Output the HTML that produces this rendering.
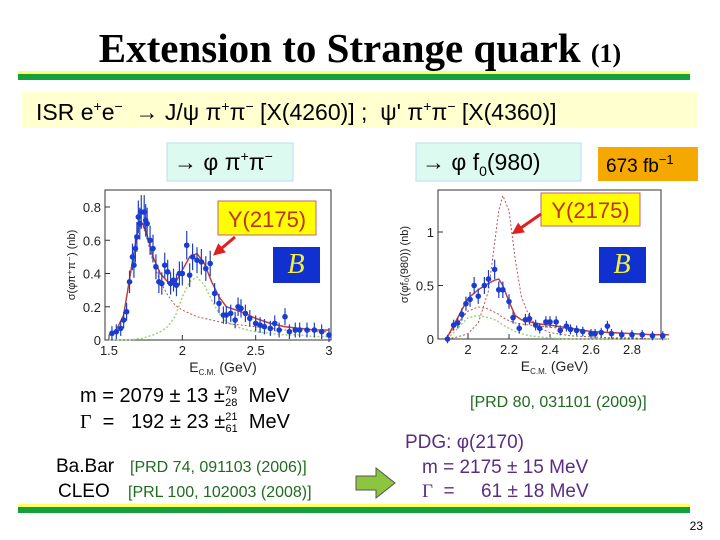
<!DOCTYPE html>
<html><head><meta charset="utf-8"><style>
html,body{margin:0;padding:0;background:#fff}
svg{display:block}
text{font-family:"Liberation Sans",sans-serif;white-space:pre}
.serif{font-family:"Liberation Serif",serif}
</style></head><body>
<svg id="slide" width="720" height="540" viewBox="0 0 720 540" xmlns="http://www.w3.org/2000/svg">
<text x="360" y="62" text-anchor="middle" class="serif" font-weight="bold" font-size="41">Extension to Strange quark <tspan font-size="26">(1)</tspan></text>
<rect x="18" y="71" width="672" height="3" fill="#ffff66"/>
<rect x="18" y="74" width="672" height="6" fill="#14a03c"/>
<rect x="22" y="92" width="676" height="36" fill="#ffffd0"/>
<text x="36" y="120" font-size="23">ISR e<tspan font-size="14" dy="-9">+</tspan><tspan dy="9">e</tspan><tspan font-size="14" dy="-9">−</tspan><tspan dy="9">  → J/ψ π</tspan><tspan font-size="14" dy="-9">+</tspan><tspan dy="9">π</tspan><tspan font-size="14" dy="-9">−</tspan><tspan dy="9"> [X(4260)] ;  ψ' π</tspan><tspan font-size="14" dy="-9">+</tspan><tspan dy="9">π</tspan><tspan font-size="14" dy="-9">−</tspan><tspan dy="9"> [X(4360)]</tspan></text>
<rect x="167" y="143" width="126" height="38" fill="#dcfaf0" stroke="#bde"/>
<text x="174" y="170" font-size="23">→ φ π<tspan font-size="14" dy="-9">+</tspan><tspan dy="9">π</tspan><tspan font-size="14" dy="-9">−</tspan></text>
<rect x="416" y="143" width="165" height="38" fill="#dcfaf0" stroke="#bde"/>
<text x="422" y="170" font-size="23">→ φ f<tspan font-size="14" dy="6">0</tspan><tspan dy="-6">(980)</tspan></text>
<rect x="598" y="147" width="100" height="34" fill="#f5a800"/>
<text x="606" y="172" font-size="19">673 fb<tspan font-size="13" dy="-8">−1</tspan></text>
<g id="left"></g>
<g id="right"></g>
<text x="80" y="402" font-size="20">m = 2079 ± 13 ±<tspan font-size="11" dy="-8">79</tspan><tspan font-size="11" dx="-12" dy="12">28</tspan><tspan dy="-4">  MeV</tspan></text>
<text x="80" y="428" font-size="20"><tspan class="serif">Γ</tspan>  =   192 ± 23 ±<tspan font-size="11" dy="-8">21</tspan><tspan font-size="11" dx="-12" dy="12">61</tspan><tspan dy="-4">  MeV</tspan></text>
<text x="56" y="472" font-size="19">Ba.Bar</text>
<text x="130" y="472" font-size="16" fill="#1f6b1f">[PRD 74, 091103 (2006)]</text>
<text x="58" y="497" font-size="19">CLEO</text>
<text x="128" y="497" font-size="16" fill="#1f6b1f">[PRL 100, 102003 (2008)]</text>
<path d="M356,476 H376 V468 L395,483 L376,498 V490 H356 Z" fill="#8cc63f" stroke="#555"/>
<text x="470" y="407" font-size="16" fill="#1f6b1f">[PRD 80, 031101 (2009)]</text>
<text x="405" y="448" font-size="19" fill="#5a2d82">PDG: φ(2170)</text>
<text x="422" y="473" font-size="19" fill="#5a2d82">m = 2175 ± 15 MeV</text>
<text x="422" y="497" font-size="19" fill="#5a2d82"><tspan class="serif">Γ</tspan>  =     61 ± 18 MeV</text>
<rect x="18" y="504" width="672" height="3" fill="#ffff66"/>
<rect x="18" y="507" width="672" height="6" fill="#14a03c"/>
<text x="703" y="530" font-size="12" text-anchor="end">23</text>
</svg>
<script>
// Left chart data: sigma(phi pi+ pi-) vs E_CM
const leftE=[1.52,1.55,1.58,1.6,1.62,1.64,1.66,1.67,1.68,1.69,1.7,1.71,1.72,1.74,1.75,1.76,1.78,1.8,1.82,1.84,1.86,1.88,1.9,1.92,1.94,1.96,1.98,2.0,2.03,2.05,2.07,2.1,2.13,2.16,2.19,2.22,2.25,2.28,2.3,2.33,2.36,2.38,2.4,2.43,2.46,2.5,2.53,2.56,2.6,2.63,2.66,2.7,2.73,2.77,2.8,2.85,2.9,2.95,3.0];
const leftSigma=[0.04,0.05,0.07,0.12,0.17,0.35,0.5,0.45,0.55,0.62,0.74,0.7,0.77,0.77,0.72,0.7,0.6,0.55,0.44,0.35,0.34,0.45,0.41,0.34,0.36,0.33,0.4,0.4,0.57,0.39,0.5,0.48,0.47,0.43,0.46,0.28,0.22,0.15,0.15,0.16,0.12,0.2,0.19,0.16,0.13,0.1,0.09,0.08,0.07,0.1,0.06,0.14,0.05,0.06,0.06,0.06,0.06,0.05,0.03];
const leftCurveE=[1.5,1.55,1.6,1.65,1.7,1.73,1.76,1.8,1.85,1.9,1.95,2.0,2.05,2.1,2.15,2.2,2.25,2.3,2.4,2.5,2.6,2.7,2.8,2.9,3.0];
const leftTotal=[0.03,0.06,0.15,0.42,0.68,0.7,0.63,0.5,0.4,0.35,0.34,0.42,0.5,0.52,0.46,0.35,0.26,0.2,0.17,0.13,0.1,0.08,0.07,0.06,0.06];
const leftRes=[0.0,0.0,0.0,0.0,0.01,0.01,0.02,0.03,0.05,0.08,0.14,0.26,0.35,0.38,0.33,0.24,0.16,0.11,0.07,0.05,0.04,0.03,0.03,0.02,0.02];
const leftBg=[0.03,0.06,0.15,0.42,0.68,0.69,0.61,0.47,0.35,0.27,0.21,0.18,0.16,0.14,0.13,0.12,0.11,0.1,0.09,0.08,0.07,0.06,0.06,0.05,0.05];
const leftXTicks=[1.5,2,2.5,3];
const leftYTicks=[0,0.2,0.4,0.6,0.8];
// Right chart data: sigma(phi f0(980)) vs E_CM
const rightE=[1.9,1.93,1.95,1.97,1.99,2.01,2.03,2.05,2.08,2.1,2.13,2.15,2.17,2.2,2.22,2.25,2.28,2.3,2.33,2.35,2.38,2.4,2.43,2.45,2.48,2.5,2.53,2.56,2.6,2.62,2.65,2.68,2.7,2.75,2.8,2.85,2.9,2.95];
const rightSigma=[0.0,0.13,0.15,0.23,0.33,0.37,0.5,0.4,0.5,0.56,0.65,0.46,0.46,0.35,0.2,0.1,0.18,0.19,0.13,0.1,0.16,0.16,0.16,0.08,0.12,0.09,0.08,0.07,0.05,0.05,0.06,0.12,0.05,0.04,0.04,0.04,0.03,0.03];
const rightCurveE=[1.9,1.95,2.0,2.05,2.1,2.13,2.15,2.17,2.2,2.23,2.26,2.3,2.35,2.4,2.5,2.6,2.7,2.8,2.9,2.98];
const rightTotal=[0.02,0.2,0.38,0.46,0.52,0.55,0.56,0.5,0.35,0.22,0.18,0.16,0.14,0.13,0.1,0.07,0.06,0.05,0.04,0.04];
const rightPeak=[0.0,0.02,0.05,0.15,0.45,0.9,1.2,1.34,1.2,0.75,0.4,0.2,0.1,0.06,0.03,0.02,0.01,0.01,0.0,0.0];
const rightBg=[0.02,0.15,0.26,0.3,0.28,0.25,0.23,0.2,0.17,0.15,0.14,0.13,0.12,0.11,0.09,0.07,0.06,0.05,0.04,0.04];
const rightGreen=[0.0,0.1,0.2,0.22,0.2,0.18,0.16,0.13,0.1,0.07,0.05,0.03,0.02,0.01,0.0,0.0,0.0,0.0,0.0,0.0];
const rightXTicks=[2,2.2,2.4,2.6,2.8];
const rightYTicks=[0,0.5,1];

const NS='http://www.w3.org/2000/svg';
function mk(parent,tag,attrs){const e=document.createElementNS(NS,tag);for(const k in attrs)e.setAttribute(k,attrs[k]);parent.appendChild(e);return e;}

function chart(g,cfg){
  const sx=v=>cfg.x0+(v-cfg.xmin)/(cfg.xmax-cfg.xmin)*(cfg.x1-cfg.x0);
  const sy=v=>cfg.y0-(v-cfg.ymin)/(cfg.ymax-cfg.ymin)*(cfg.y0-cfg.y1);
  const f=mk(g,'rect',{x:cfg.fl,y:cfg.ft,width:cfg.fr-cfg.fl,height:cfg.fb-cfg.ft,fill:'none',stroke:'#333','stroke-width':1});
  
  
  cfg.xt.forEach(t=>{
    const l=mk(g,'line',{x1:sx(t),x2:sx(t),y1:cfg.fb,y2:cfg.fb-5,stroke:'#333'});
    
    
    const tx=mk(g,'text',{x:sx(t),y:cfg.fb+15,'text-anchor':'middle','font-size':13,fill:'#222'});
    tx.textContent=t;
    
    
  });
  cfg.yt.forEach(t=>{
    const l=mk(g,'line',{x1:cfg.fl,x2:cfg.fl+5,y1:sy(t),y2:sy(t),stroke:'#333'});
    
    
    const tx=mk(g,'text',{x:cfg.fl-4,y:sy(t)+5,'text-anchor':'end','font-size':13,fill:'#222'});
    tx.textContent=t;
    
    
  });
  const yl=mk(g,'text',{transform:`translate(${cfg.fl-30},${(cfg.ft+cfg.fb)/2}) rotate(-90)`,'text-anchor':'middle','font-size':11,fill:'#222'});
  yl.textContent=cfg.ylab;
  
  
  const xl=mk(g,'text',{x:(cfg.fl+cfg.fr)/2+5,y:cfg.fb+32,'text-anchor':'middle','font-size':14,fill:'#222'});
  xl.innerHTML='E<tspan font-size="8" dy="3">C.M.</tspan><tspan dy="-3"> (GeV)</tspan>';
  
  
  cfg.curves.forEach(c=>{
    const p=mk(g,'polyline',{points:cfg.ce.map((e,i)=>sx(e)+','+sy(c.v[i])).join(' '),fill:'none',stroke:c.col,'stroke-width':c.w,'stroke-dasharray':c.dash||'none'});
    
    
  });
  cfg.E.forEach((e,i)=>{
    const v=cfg.S[i],err=0.04+v*0.08;
    const eb=mk(g,'line',{x1:sx(e),x2:sx(e),y1:sy(v-err),y2:sy(v+err),stroke:'#2040c0','stroke-width':1.2});
    
    
    const c=mk(g,'circle',{cx:sx(e),cy:sy(v),r:2.8,fill:'#1a3cd0'});
    
    
  });
}
chart(document.getElementById('left'),{x0:109,x1:329,xmin:1.5,xmax:3,y0:340,y1:207,ymin:0,ymax:0.8,fl:105,fr:331,ft:190,fb:340,
  xt:leftXTicks,yt:leftYTicks,ylab:'σ(φπ⁺π⁻) (nb)',E:leftE,S:leftSigma,ce:leftCurveE,
  curves:[{v:leftRes,col:'#9cd67a',w:1.5,dash:'2,2',name:'resonance-curve'},{v:leftBg,col:'#c05050',w:1,dash:'2,2',name:'background-curve'},{v:leftTotal,col:'#c04040',w:1.5,name:'total-fit-curve'}]});
chart(document.getElementById('right'),{x0:468,x1:632,xmin:2,xmax:2.8,y0:339,y1:232,ymin:0,ymax:1,fl:438,fr:661,ft:190,fb:339,
  xt:rightXTicks,yt:rightYTicks,ylab:'σ(φf₀(980)) (nb)',E:rightE,S:rightSigma,ce:rightCurveE,
  curves:[{v:rightGreen,col:'#9cd67a',w:1.5,dash:'2,2',name:'interference-curve'},{v:rightBg,col:'#c05050',w:1,dash:'2,2',name:'background-curve'},{v:rightPeak,col:'#c05050',w:1,dash:'2,2',name:'resonance-curve'},{v:rightTotal,col:'#c04040',w:1.5,name:'total-fit-curve'}]});

// annotations
const s=document.getElementById('slide');
[[218,201,98,34,'y2175-left'],[541,193,99,33,'y2175-right']].forEach(b=>{
  const r=mk(s,'rect',{x:b[0],y:b[1],width:b[2],height:b[3],fill:'#ffff00',stroke:'#c06080'});
  
  
  const t=mk(s,'text',{x:b[0]+b[2]/2,y:b[1]+b[3]-8,'text-anchor':'middle','font-size':22,fill:'#c03020'});
  t.textContent='Y(2175)';
  
  
});
[[235,237,216,253,'arrow-left'],[541,214,515,232,'arrow-right']].forEach(a=>{
  const l=mk(s,'line',{x1:a[0],y1:a[1],x2:a[2],y2:a[3],stroke:'#e02020','stroke-width':3});
  
  
  const dx=a[2]-a[0],dy=a[3]-a[1],L=Math.hypot(dx,dy),ux=dx/L,uy=dy/L;
  const p=mk(s,'polygon',{points:`${a[2]+ux*4},${a[3]+uy*4} ${a[2]-ux*8-uy*6},${a[3]-uy*8+ux*6} ${a[2]-ux*8+uy*6},${a[3]-uy*8-ux*6}`,fill:'#e02020'});
  
  
});
[[273,247,'belle-logo-left'],[599,247,'belle-logo-right']].forEach(b=>{
  const r=mk(s,'rect',{x:b[0],y:b[1],width:47,height:36,fill:'#1030d0'});
  
  
  const t=mk(s,'text',{x:b[0]+23,y:b[1]+26,'text-anchor':'middle','font-size':28,'font-style':'italic',style:'font-family:"Liberation Serif",serif',fill:'#f0f040'});
  t.textContent='B';
  
  
});
</script>
</body></html>
